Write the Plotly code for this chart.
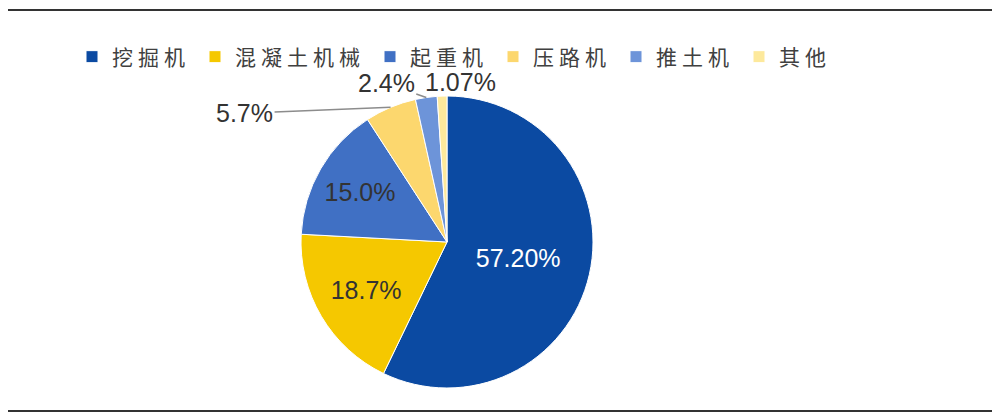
import math
import plotly.graph_objects as go

# 工程机械细分品类占比
categories = ["挖掘机", "混凝土机械", "起重机", "压路机", "推土机", "其他"]
shares = [57.20, 18.7, 15.0, 5.7, 2.4, 1.07]
share_labels = ["57.20%", "18.7%", "15.0%", "5.7%", "2.4%", "1.07%"]

colors = ["#0b4aa2", "#f5c800", "#4070c4", "#fcd76e", "#6d94d9", "#fde99c"]
label_pos = ["inside", "inside", "inside", "none", "none", "none"]
label_colors = ["#ffffff", "#333333", "#333333", "#333333", "#333333", "#333333"]

W, H = 1000, 420
# pie geometry (figure pixels)
pie_cx, pie_cy, pie_r = 439, 234, 146

# legend text a bit spaced out like the original
legend_names = ['<span style="letter-spacing:5px">%s</span>' % c for c in categories]

fig = go.Figure()
fig.add_trace(go.Pie(
    labels=legend_names,
    values=shares,
    text=share_labels,
    textinfo="text",
    textposition=label_pos,
    insidetextorientation="horizontal",
    textfont=dict(family="Liberation Sans, Arial", size=25, color=label_colors),
    marker=dict(colors=colors, line=dict(color="#ffffff", width=1)),
    sort=False,
    direction="clockwise",
    rotation=0,
    automargin=False,
    domain=dict(x=[(pie_cx - pie_r) / W, (pie_cx + pie_r) / W],
                y=[1 - (pie_cy + pie_r) / H, 1 - (pie_cy - pie_r) / H]),
    customdata=categories,
    hovertemplate="%{customdata}: %{text}<extra></extra>",
))

# small slices: labels outside with leader lines, anchored at slice mid-angle on the rim
offsets = {3: (-146, 6), 4: (-40, -14), 5: (18, -14)}
total = sum(shares)
cum = 0
for i, v in enumerate(shares):
    mid = (cum + v / 2) / total * 2 * math.pi
    cum += v
    if i not in offsets:
        continue
    ax, ay = offsets[i]
    fig.add_annotation(
        x=(pie_cx + pie_r * math.sin(mid)) / W,
        y=1 - (pie_cy - pie_r * math.cos(mid)) / H,
        xref="paper", yref="paper",
        text=share_labels[i],
        showarrow=True, arrowhead=0, arrowwidth=1.5, arrowcolor="#8c8c8c",
        standoff=0, startstandoff=0,
        ax=ax, ay=ay,
        font=dict(family="Liberation Sans, Arial", size=25, color="#333333"),
    )

# 上下两条分隔线
fig.add_shape(type="line", xref="paper", yref="paper", x0=-0.01, x1=0.989, y0=1 - 2 / H, y1=1 - 2 / H,
              line=dict(color="#333333", width=2))
fig.add_shape(type="line", xref="paper", yref="paper", x0=-0.01, x1=0.989, y0=1 - 403 / H, y1=1 - 403 / H,
              line=dict(color="#333333", width=2))

fig.update_layout(
    width=W, height=H,
    margin=dict(l=0, r=0, t=0, b=0),
    paper_bgcolor="#ffffff",
    plot_bgcolor="#ffffff",
    showlegend=True,
    legend=dict(
        orientation="h",
        x=0.064, y=1 - 49 / H, xanchor="left", yanchor="middle",
        font=dict(family="Noto Sans CJK SC", size=21, color="#404040"),
        itemwidth=30,
        traceorder="normal",
    ),
)

fig.write_html("out.html")
